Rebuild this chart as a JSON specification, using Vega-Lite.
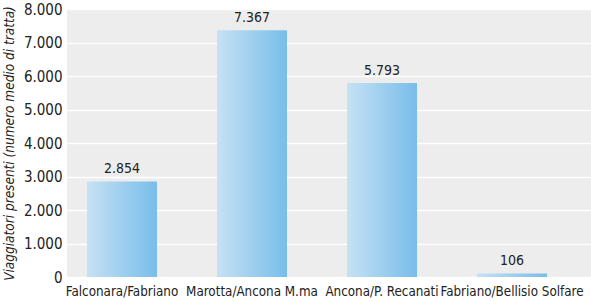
{
  "$schema": "https://vega.github.io/schema/vega-lite/v6.json",
  "width": 524,
  "height": 268,
  "autosize": "none",
  "padding": {"left": 67, "top": 9, "right": 0, "bottom": 24},
  "background": "white",
  "config": {
    "locale": {"number": {"decimal": ",", "thousands": ".", "grouping": [3], "currency": ["€", ""]}},
    "view": {"fill": "#ededed", "stroke": null},
    "font": "DejaVu Sans Condensed, Liberation Sans, sans-serif"
  },
  "data": {
    "values": [
      {"tratta": "Falconara/Fabriano", "viaggiatori": 2854},
      {"tratta": "Marotta/Ancona M.ma", "viaggiatori": 7367},
      {"tratta": "Ancona/P. Recanati", "viaggiatori": 5793},
      {"tratta": "Fabriano/Bellisio Solfare", "viaggiatori": 106}
    ]
  },
  "encoding": {
    "x": {
      "field": "tratta",
      "type": "nominal",
      "sort": null,
      "scale": {"paddingInner": 0.4615, "paddingOuter": 0.246, "align": 0.3125},
      "axis": {
        "title": null,
        "labelAngle": 0,
        "labelFont": "DejaVu Sans Condensed, Liberation Sans, sans-serif",
        "labelFontSize": 13.3,
        "labelColor": "#222222",
        "labelPadding": 7,
        "labelOverlap": false,
        "ticks": false,
        "domain": false,
        "grid": false
      }
    },
    "y": {
      "field": "viaggiatori",
      "type": "quantitative",
      "scale": {"domain": [0, 8000], "nice": false},
      "axis": {
        "title": "Viaggiatori presenti (numero medio di tratta)",
        "titleFont": "DejaVu Sans Condensed, Liberation Sans, sans-serif",
        "titleFontSize": 13.5,
        "titleFontStyle": "italic",
        "titleFontWeight": "normal",
        "titleColor": "#222222",
        "titlePadding": 7,
        "values": [0, 1000, 2000, 3000, 4000, 5000, 6000, 7000, 8000],
        "format": ",d",
        "labelFont": "DejaVu Sans Condensed, Liberation Sans, sans-serif",
        "labelFontSize": 15,
        "labelColor": "#222222",
        "labelPadding": 5,
        "ticks": false,
        "domain": false,
        "grid": true,
        "gridColor": "white",
        "gridWidth": 1.5
      }
    }
  },
  "layer": [
    {
      "mark": {
        "type": "bar",
        "color": {
          "gradient": "linear",
          "x1": 0, "y1": 0, "x2": 1, "y2": 0,
          "stops": [
            {"offset": 0, "color": "#c6e1f5"},
            {"offset": 1, "color": "#78bde9"}
          ]
        }
      }
    },
    {
      "mark": {"type": "text", "dy": -12, "fontSize": 14, "color": "#222222", "font": "DejaVu Sans Condensed, Liberation Sans, sans-serif"},
      "encoding": {
        "text": {"field": "viaggiatori", "type": "quantitative", "format": ",d"}
      }
    }
  ]
}
